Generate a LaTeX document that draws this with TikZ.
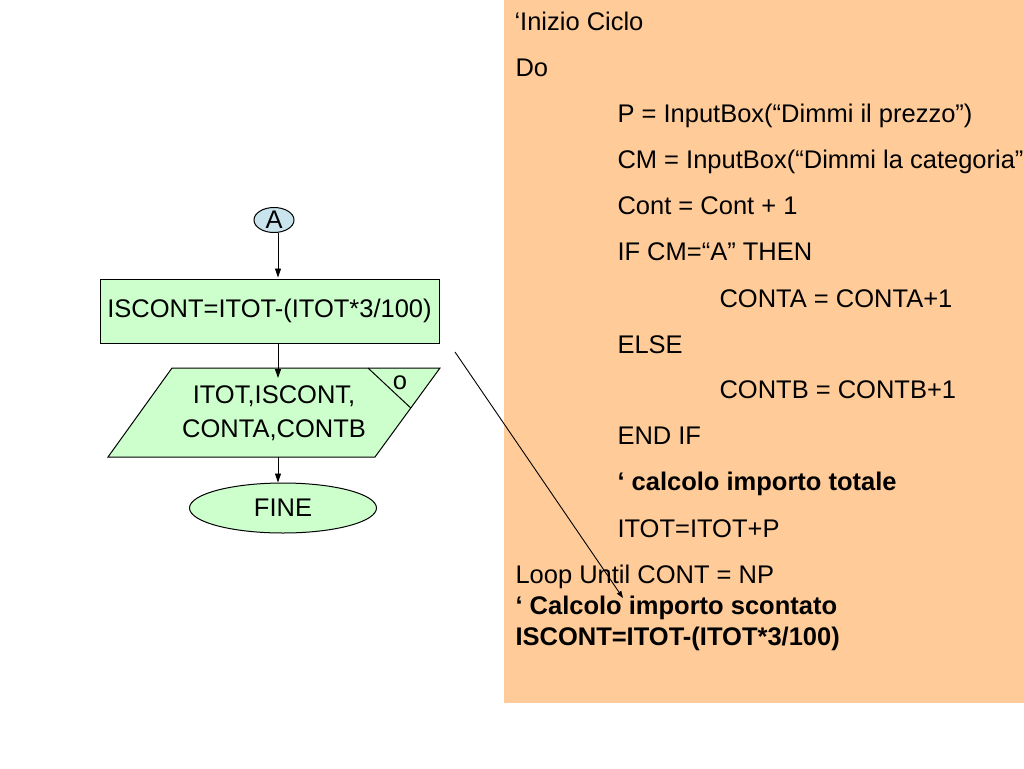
\documentclass[tikz,border=0pt]{standalone}
\usepackage{fontspec}
\setmainfont{Liberation Sans}
\usetikzlibrary{shapes.geometric,arrows.meta}
\definecolor{peach}{HTML}{FFCC99}
\definecolor{lgreen}{HTML}{CCFFCC}
\definecolor{lblue}{HTML}{C9E4EC}
\tikzset{
  big/.style={font=\fontsize{25.5}{34}\selectfont},
  code/.style={big,anchor=base west,inner sep=0pt},
  arr/.style={-{Triangle[length=9pt,width=6pt]},line width=0.9pt},
}
\begin{document}
\begin{tikzpicture}[x=1pt,y=-1pt,line width=1pt]
  \useasboundingbox (0,0) rectangle (1024,768);
  \fill[peach] (504,0) rectangle (1024,703);
  % flowchart
  \node (a) at (274,220) [ellipse,draw,fill=lblue,minimum width=40,minimum height=25,inner sep=0pt,big] {A};
  \node (isc) at (269.5,311) [rectangle,draw,fill=lgreen,minimum width=339,minimum height=64,big] {ISCONT=ITOT-(ITOT*3/100)};
  \coordinate (p1) at (172,368) ;
  \coordinate (p2) at (440,368) ;
  \coordinate (p3) at (375,457) ;
  \coordinate (p4) at (108,457) ;
  \coordinate (c1) at (368,368) ;
  \coordinate (c2) at (410.8,408) ;
  \draw[fill=lgreen] (p1) -- (p2) -- (p3) -- (p4) -- cycle;
  \draw (c1) -- (c2);
  \node (o) at (400,383) [big] {o};
  \node (out) at (274,413) [align=center,big] {ITOT,ISCONT,\\CONTA,CONTB};
  \node (fine) at (283,508) [ellipse,draw,fill=lgreen,minimum width=187,minimum height=50,big] {FINE};
  \draw[arr] ([xshift=4pt]a.south) -- ([xshift=4pt,yshift=1pt]a.south |- isc.north);
  \draw[arr] ([xshift=8.5pt]isc.south) -- ([xshift=8.5pt,yshift=-10pt]isc.south |- p1);
  \draw[arr] (p4 -| out) ++(4,0) coordinate (q) -- (q |- fine.north);
  % code
  \node (l1) at (514,31) [code] {‘Inizio Ciclo};
  \node (l2) at (515,77) [code] {Do};
  \node (l3) at (617,122) [code] {P = InputBox(“Dimmi il prezzo”)};
  \node (l4) at (617,168) [code] {CM = InputBox(“Dimmi la categoria”};
  \node (l5) at (617,214) [code] {Cont = Cont + 1};
  \node (l6) at (617,260) [code] {IF CM=“A” THEN};
  \node (l7) at (719,307) [code] {CONTA = CONTA+1};
  \node (l8) at (617,353) [code] {ELSE};
  \node (l9) at (719,398) [code] {CONTB = CONTB+1};
  \node (l10) at (617,444) [code] {END IF};
  \node (l11) at (617,490) [code] {\bfseries ‘ calcolo importo totale};
  \node (l12) at (617,537) [code] {ITOT=ITOT+P};
  \node (l13) at (515,583) [code] {Loop Until CONT = NP};
  \node (l14) at (515,614) [code] {\bfseries ‘ Calcolo importo scontato};
  \node (l15) at (515,645) [code] {\bfseries ISCONT=ITOT-(ITOT*3/100)};
  \coordinate (from) at (455,352) ;
  \draw[arr,-{Triangle[length=7pt,width=5pt]}] (from) -- (623,598);
\end{tikzpicture}
\end{document}
